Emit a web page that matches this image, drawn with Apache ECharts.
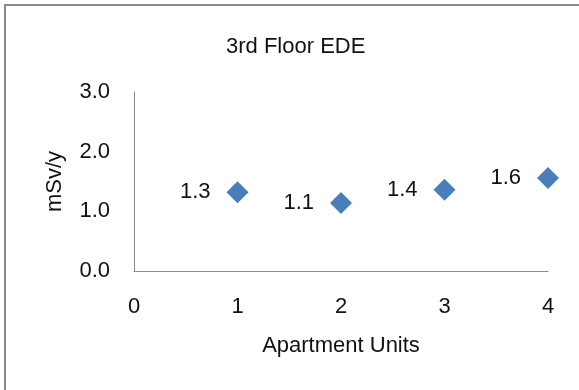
<!DOCTYPE html>
<html>
<head>
<meta charset="utf-8">
<script src="https://cdn.jsdelivr.net/npm/echarts@6/dist/echarts.min.js"></script>
<style>
html,body{margin:0;padding:0;background:#fff;}
#chart{width:579px;height:390px;}
</style>
</head>
<body>
<div id="chart"></div>
<script>
var titleText = "3rd Floor EDE";
var xName = "Apartment Units";
var yName = "mSv/y";
var units = [1, 2, 3, 4];
var ede = [1.32, 1.14, 1.36, 1.56];
var yTicks = [0, 1, 2, 3];
var xTicks = [0, 1, 2, 3, 4];

var FONT = "Liberation Sans";
var points = units.map(function (u, i) { return [u, ede[i]]; });

var chart = echarts.init(document.getElementById('chart'), null, {renderer: 'canvas'});
chart.setOption({
  animation: false,
  backgroundColor: '#ffffff',
  graphic: [{
    type: 'rect',
    shape: {x: 5, y: 5, width: 620, height: 430},
    style: {fill: 'none', stroke: '#8a8a8a', lineWidth: 2},
    silent: true
  }],
  title: {
    text: titleText,
    left: 221,
    top: 31,
    textStyle: {fontFamily: FONT, fontSize: 22, fontWeight: 'normal', color: '#111'}
  },
  grid: {left: 134, right: 31, top: 92, bottom: 119, containLabel: false},
  xAxis: {
    type: 'value',
    min: xTicks[0], max: xTicks[xTicks.length - 1], interval: 1,
    name: xName, nameLocation: 'middle', nameGap: 64,
    nameTextStyle: {fontFamily: FONT, fontSize: 22, color: '#111'},
    axisLine: {show: true, lineStyle: {color: '#8a8a8a', width: 1}},
    axisTick: {show: false},
    splitLine: {show: false},
    axisLabel: {fontFamily: FONT, fontSize: 22, color: '#111', margin: 25}
  },
  yAxis: {
    type: 'value',
    min: yTicks[0], max: yTicks[yTicks.length - 1], interval: 1,
    name: yName, nameLocation: 'middle', nameGap: 68, nameRotate: 90,
    nameTextStyle: {fontFamily: FONT, fontSize: 22, color: '#111'},
    axisLine: {show: true, lineStyle: {color: '#8a8a8a', width: 1}},
    axisTick: {show: false},
    splitLine: {show: false},
    axisLabel: {fontFamily: FONT, fontSize: 22, color: '#111', margin: 24,
      formatter: function (v) { return v.toFixed(1); }}
  },
  series: [{
    type: 'scatter',
    data: points,
    symbol: 'diamond',
    symbolSize: 22,
    itemStyle: {color: '#4A7EBB', opacity: 1},
    label: {
      show: true, position: 'left', distance: 16,
      fontFamily: FONT, fontSize: 22, color: '#111', opacity: 1,
      formatter: function (p) { return p.value[1].toFixed(1); }
    }
  }]
});
</script>
</body>
</html>
